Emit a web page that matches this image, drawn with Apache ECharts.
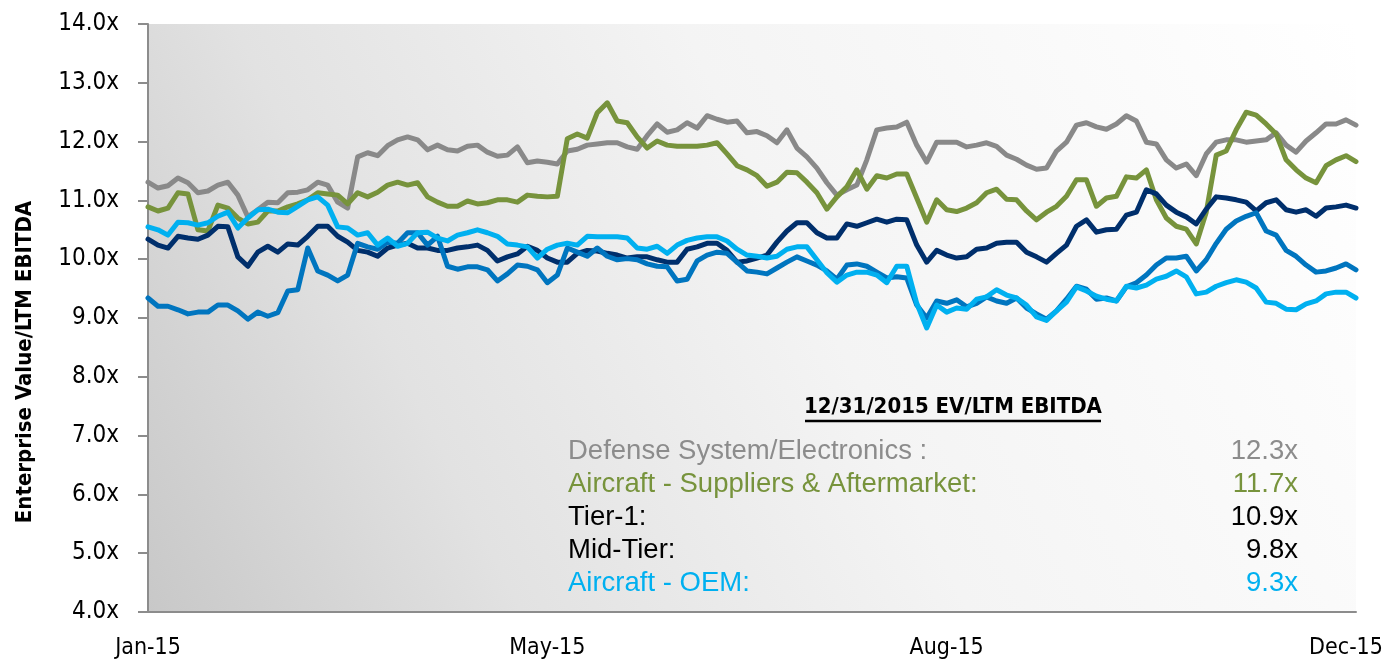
<!DOCTYPE html>
<html>
<head>
<meta charset="utf-8">
<script src="https://cdn.jsdelivr.net/npm/echarts@6/dist/echarts.min.js"></script>
<style>
html,body{margin:0;padding:0;background:#fff;}
#chart{width:1388px;height:666px;}
</style>
</head>
<body>
<div id="chart"></div>
<script>
// ---- data ----
const tickLabels = ['Jan-15', 'May-15', 'Aug-15', 'Dec-15'];
const tickStep = 40;

const defenseSys = [11.31,11.21,11.25,11.38,11.30,11.13,11.16,11.26,11.31,11.09,
 10.72,10.84,10.97,10.96,11.13,11.14,11.18,11.31,11.26,10.97,
 10.87,11.74,11.81,11.76,11.93,12.03,12.08,12.03,11.86,11.94,
 11.86,11.84,11.92,11.94,11.82,11.75,11.77,11.91,11.64,11.67,
 11.65,11.62,11.84,11.87,11.94,11.96,11.98,11.98,11.91,11.87,
 12.10,12.30,12.16,12.20,12.32,12.23,12.44,12.38,12.33,12.35,
 12.15,12.17,12.10,11.98,12.20,11.89,11.74,11.55,11.30,11.09,
 11.18,11.26,11.69,12.20,12.23,12.25,12.33,11.94,11.65,11.99,
 11.99,11.99,11.91,11.94,11.98,11.92,11.77,11.70,11.60,11.53,
 11.55,11.84,11.99,12.28,12.32,12.25,12.21,12.30,12.44,12.35,
 11.99,11.96,11.69,11.55,11.62,11.42,11.79,11.99,12.03,12.03,
 11.99,12.01,12.03,12.15,11.94,11.82,12.01,12.15,12.30,12.30,
 12.37,12.28];

const aircraftSuppliers = [10.89,10.82,10.87,11.13,11.11,10.50,10.48,10.92,10.87,10.70,
 10.60,10.63,10.82,10.82,10.89,10.94,11.01,11.13,11.11,11.09,
 10.94,11.13,11.06,11.14,11.26,11.31,11.26,11.30,11.06,10.97,
 10.90,10.90,10.99,10.94,10.96,11.01,11.01,10.97,11.09,11.07,
 11.06,11.07,12.05,12.13,12.06,12.49,12.66,12.35,12.32,12.08,
 11.89,12.01,11.94,11.92,11.92,11.92,11.94,11.98,11.79,11.59,
 11.52,11.42,11.24,11.31,11.48,11.47,11.31,11.13,10.85,11.06,
 11.23,11.52,11.19,11.42,11.38,11.45,11.45,11.04,10.63,11.01,
 10.84,10.81,10.87,10.96,11.13,11.19,11.02,11.01,10.82,10.67,
 10.80,10.90,11.07,11.35,11.35,10.90,11.04,11.07,11.40,11.38,
 11.52,11.01,10.70,10.56,10.51,10.26,10.80,11.77,11.84,12.20,
 12.50,12.45,12.30,12.13,11.69,11.52,11.38,11.30,11.59,11.69,
 11.76,11.66];

const tier1 = [10.34,10.24,10.19,10.39,10.36,10.34,10.41,10.56,10.55,10.04,
 9.88,10.12,10.22,10.12,10.26,10.24,10.39,10.56,10.56,10.39,
 10.29,10.15,10.12,10.05,10.19,10.24,10.27,10.19,10.19,10.15,
 10.15,10.19,10.21,10.24,10.15,9.97,10.04,10.09,10.22,10.15,
 10.02,9.95,9.95,10.10,10.15,10.14,10.10,10.07,10.02,10.04,
 10.04,9.99,9.95,9.95,10.17,10.21,10.27,10.27,10.15,9.95,
 9.97,10.02,10.07,10.29,10.48,10.62,10.62,10.45,10.36,10.36,
 10.60,10.56,10.62,10.68,10.63,10.68,10.67,10.24,9.95,10.15,
 10.07,10.02,10.04,10.17,10.19,10.27,10.29,10.29,10.12,10.04,
 9.95,10.10,10.24,10.56,10.67,10.46,10.50,10.51,10.75,10.80,
 11.18,11.11,10.92,10.80,10.72,10.60,10.85,11.06,11.04,11.01,
 10.97,10.82,10.96,11.01,10.84,10.80,10.84,10.73,10.87,10.89,
 10.92,10.87];

const midTier = [9.34,9.20,9.20,9.14,9.07,9.10,9.10,9.22,9.22,9.12,
 8.98,9.10,9.03,9.09,9.46,9.48,10.19,9.80,9.73,9.63,
 9.73,10.27,10.21,10.17,10.29,10.27,10.45,10.45,10.24,10.39,
 9.88,9.83,9.87,9.87,9.82,9.63,9.75,9.90,9.88,9.82,
 9.60,9.73,10.19,10.12,10.05,10.19,10.05,9.99,10.01,9.99,
 9.92,9.88,9.87,9.63,9.66,9.97,10.07,10.12,10.10,9.95,
 9.80,9.78,9.75,9.85,9.95,10.04,9.97,9.90,9.80,9.66,
 9.90,9.92,9.88,9.78,9.68,9.70,9.68,9.22,9.00,9.29,
 9.25,9.31,9.19,9.25,9.36,9.29,9.25,9.34,9.17,9.07,
 8.98,9.12,9.32,9.54,9.49,9.32,9.34,9.29,9.53,9.60,
 9.73,9.90,10.02,10.02,10.05,9.80,9.99,10.27,10.51,10.65,
 10.73,10.79,10.48,10.41,10.15,10.05,9.90,9.78,9.80,9.85,
 9.92,9.82];

const aircraftOEM = [10.55,10.50,10.41,10.63,10.62,10.58,10.62,10.73,10.80,10.53,
 10.70,10.84,10.85,10.80,10.79,10.90,11.01,11.06,10.92,10.55,
 10.53,10.41,10.45,10.24,10.36,10.22,10.27,10.45,10.46,10.36,
 10.31,10.41,10.45,10.50,10.45,10.39,10.26,10.24,10.21,10.02,
 10.17,10.24,10.27,10.24,10.39,10.38,10.38,10.38,10.36,10.19,
 10.17,10.22,10.10,10.24,10.32,10.36,10.38,10.38,10.31,10.17,
 10.07,10.05,10.02,10.05,10.17,10.21,10.21,9.99,9.77,9.61,
 9.73,9.78,9.78,9.73,9.60,9.88,9.88,9.25,8.83,9.22,
 9.10,9.17,9.15,9.32,9.36,9.48,9.39,9.34,9.22,9.02,
 8.96,9.12,9.27,9.53,9.46,9.37,9.32,9.29,9.54,9.51,
 9.56,9.66,9.71,9.80,9.70,9.41,9.44,9.54,9.60,9.65,
 9.61,9.51,9.27,9.25,9.15,9.14,9.24,9.29,9.41,9.44,
 9.44,9.34];

const seriesNames = ['Defense System/Electronics', 'Aircraft - Suppliers & Aftermarket', 'Tier-1', 'Mid-Tier', 'Aircraft - OEM'];
const summaryTitle = '12/31/2015 EV/LTM EBITDA';
const summaryLabels = ['Defense System/Electronics :', 'Aircraft - Suppliers & Aftermarket:', 'Tier-1:', 'Mid-Tier:', 'Aircraft - OEM:'];
const summaryValues = ['12.3x', '11.7x', '10.9x', '9.8x', '9.3x'];
const yAxisTitle = 'Enterprise Value/LTM EBITDA';

// ---- styling ----
const lineColors = ['#898989', '#77933c', '#002f6c', '#0075bf', '#00b0f0'];
const summaryColors = ['#8c8c8c', '#77933c', '#000000', '#000000', '#00b0f0'];
const NARROW = '"Liberation Sans Narrow", "DejaVu Sans Condensed", "Roboto Condensed", sans-serif';
const SANS = '"Liberation Sans", Arial, sans-serif';

const categories = defenseSys.map((_, i) => String(i));
const allSeries = [defenseSys, aircraftSuppliers, tier1, midTier, aircraftOEM];

const chart = echarts.init(document.getElementById('chart'), null, {renderer: 'canvas'});

const rowY = [451, 484, 517, 550, 583];
const graphics = [
  {
    type: 'text', x: 25, y: 362, rotation: Math.PI / 2,
    style: {text: yAxisTitle, fill: '#000', fontFamily: NARROW, fontWeight: 'bold', fontSize: 22,
            align: 'center', verticalAlign: 'middle'}
  },
  {
    type: 'text', x: 953, y: 407,
    style: {text: summaryTitle, fill: '#000', fontFamily: NARROW, fontWeight: 'bold', fontSize: 22,
            align: 'center', verticalAlign: 'middle'}
  },
  {
    type: 'line', shape: {x1: 805, y1: 421, x2: 1101, y2: 421},
    style: {stroke: '#000', lineWidth: 2.5}
  }
];
summaryLabels.forEach((t, i) => {
  graphics.push({type: 'text', x: 568, y: rowY[i],
    style: {text: t, fill: summaryColors[i], fontFamily: SANS, fontSize: 27.5, align: 'left', verticalAlign: 'middle'}});
  graphics.push({type: 'text', x: 1298, y: rowY[i],
    style: {text: summaryValues[i], fill: summaryColors[i], fontFamily: SANS, fontSize: 27.5, align: 'right', verticalAlign: 'middle'}});
});

const option = {
  animation: false,
  backgroundColor: '#ffffff',
  grid: {
    left: 148, right: 32, top: 24, bottom: 54, show: true, borderWidth: 0,
    backgroundColor: new echarts.graphic.LinearGradient(0, 1, 1, 0, [
      {offset: 0, color: '#c8c8c8'},
      {offset: 0.25, color: '#e2e2e2'},
      {offset: 0.55, color: '#f4f4f4'},
      {offset: 1, color: '#ffffff'}
    ])
  },
  xAxis: {
    type: 'category', data: categories, boundaryGap: false,
    axisLine: {show: true, lineStyle: {color: '#8c8c8c', width: 2}},
    axisTick: {show: false},
    splitLine: {show: false},
    axisLabel: {
      interval: tickStep - 1, margin: 25, color: '#000', fontFamily: NARROW, fontSize: 23,
      formatter: (v, idx) => (idx % tickStep === 0 && tickLabels[idx / tickStep]) ? tickLabels[idx / tickStep] : ''
    }
  },
  yAxis: {
    type: 'value', min: 4, max: 14, interval: 1,
    axisLine: {show: true, lineStyle: {color: '#8c8c8c', width: 2}},
    axisTick: {show: true, length: 10, lineStyle: {color: '#8c8c8c', width: 2}},
    splitLine: {show: false},
    axisLabel: {margin: 29, color: '#000', fontFamily: NARROW, fontSize: 24,
      formatter: v => v.toFixed(1) + 'x'}
  },
  series: allSeries.map((d, i) => ({
    name: seriesNames[i], type: 'line', data: d, showSymbol: false, symbol: 'none',
    lineStyle: {color: lineColors[i], width: 5, join: 'round', cap: 'round'}, itemStyle: {color: lineColors[i]},
    z: 2 + i
  })),
  graphic: graphics
};
chart.setOption(option);
</script>
</body>
</html>
